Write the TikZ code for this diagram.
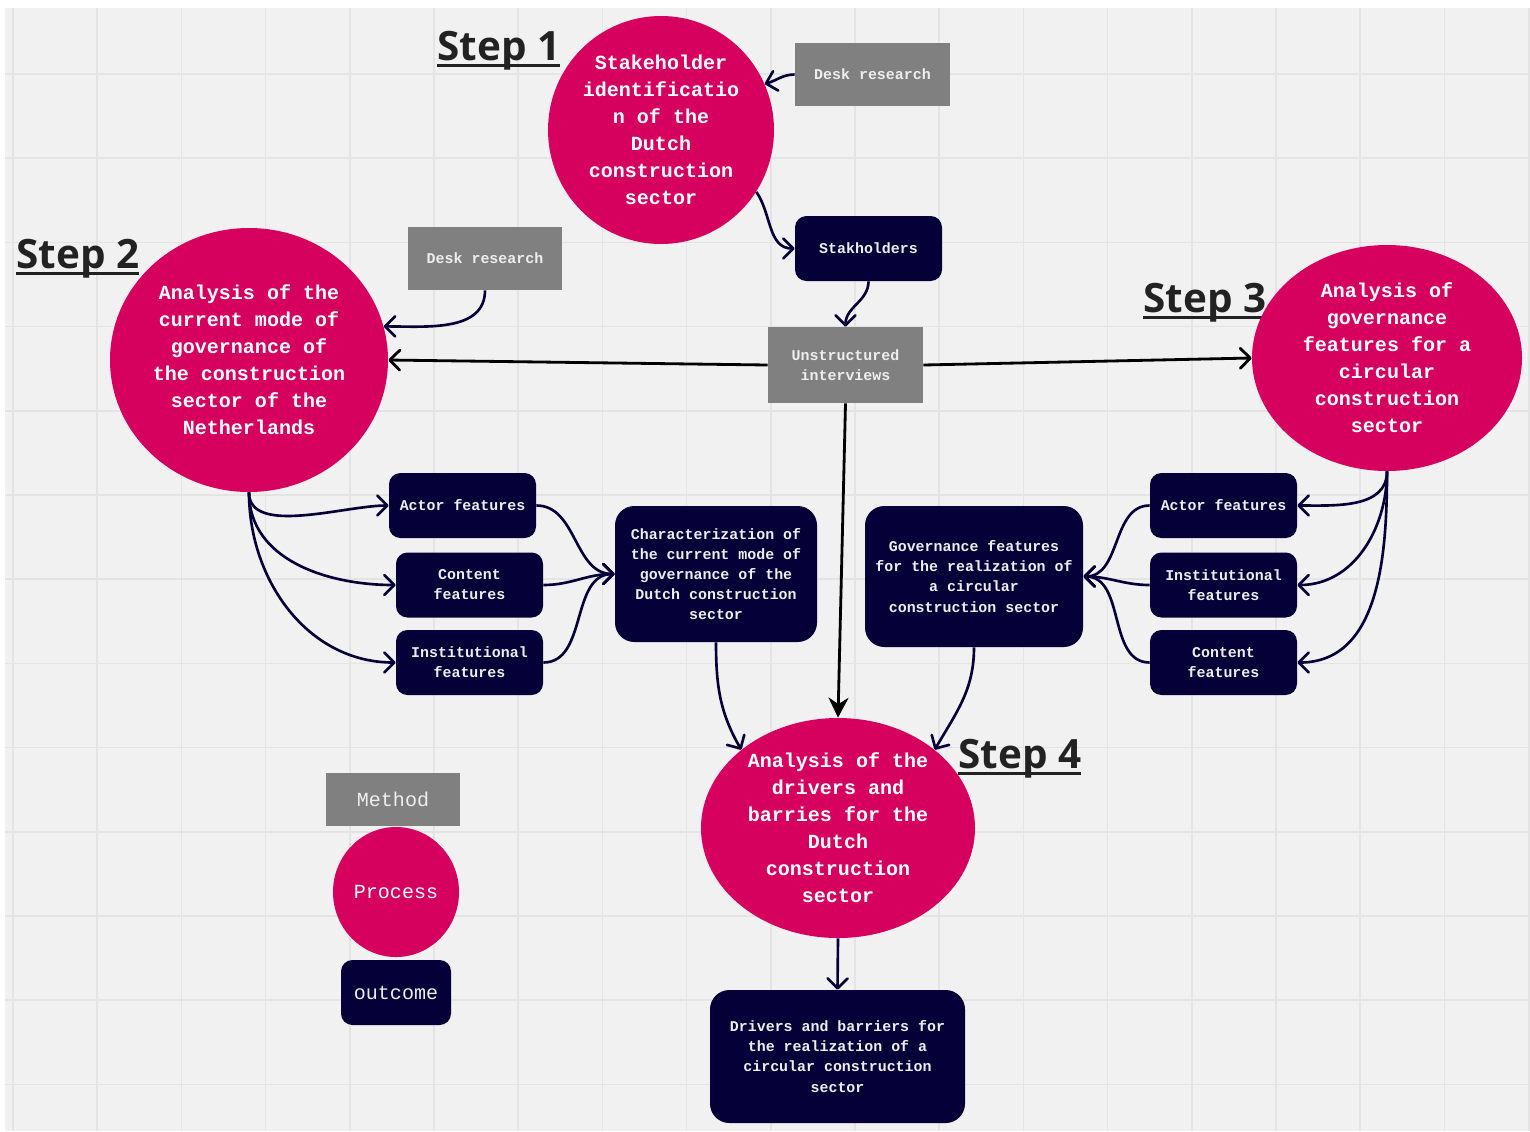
\documentclass[tikz,border=0pt]{standalone}
\usepackage{fontspec}
\usepackage{xcolor}
\usepackage{tikz}
\usetikzlibrary{positioning, arrows.meta, shapes.geometric}
\newfontfamily\monofont{Liberation Mono}
\newfontfamily\stepfont{Open Sans}
\newcommand{\bigmono}{\monofont\bfseries\fontsize{11.4}{15.4}\selectfont}
\newcommand{\smallmono}{\monofont\bfseries\fontsize{8.5}{11.4}\selectfont}
\newcommand{\legendmono}{\monofont\fontsize{11.4}{15.4}\selectfont}
% underlined step title
\newcommand{\steptitle}[1]{\setbox0=\hbox{#1}\rlap{\rule[-3.7pt]{\wd0}{1.7pt}}\box0}
\definecolor{procpink}{HTML}{D6005F}
\definecolor{outnavy}{HTML}{050038}
\definecolor{methgray}{HTML}{808080}
\definecolor{canvas}{HTML}{F1F1F1}
\definecolor{gridline}{HTML}{E4E4E4}
\definecolor{steptext}{HTML}{222222}
\definecolor{boxtext}{HTML}{EEEEEE}

\begin{document}
\begin{tikzpicture}[
  >=Stealth,
  process/.style={ellipse, fill=procpink, text=white, inner sep=0pt,
    align=center, font=\bigmono},
  method/.style={fill=methgray, text=boxtext, inner sep=0pt,
    align=center, font=\smallmono},
  outcome/.style={fill=outnavy, text=boxtext, rounded corners=6.5pt,
    inner sep=0pt, align=center, font=\smallmono},
  featbox/.style={outcome, minimum width=2.94cm, minimum height=1.3cm},
  bigout/.style={outcome, rounded corners=11pt},
  steplabel/.style={font=\stepfont\bfseries\fontsize{23}{28}\selectfont,
    text=steptext, anchor=base west, inner sep=0pt},
  link/.style={draw=outnavy, line width=1.5pt,
    -{Straight Barb[length=2mm, width=4mm, round]}},
  mainlink/.style={draw=black, line width=1.6pt,
    -{Straight Barb[length=2mm, width=4mm, round]}},
]

% ===== CANVAS =====
\useasboundingbox (0,0) rectangle (30.6,-22.62);
\fill[white] (0,0) rectangle (30.6,-22.62);
\fill[canvas] (0.1,-0.16) rectangle (30.6,-22.62);
\foreach \gx in {0,...,18}
  \draw[gridline, line width=1pt] ({0.26+1.684*\gx},-0.16) -- ({0.26+1.684*\gx},-22.62);
\foreach \gy in {0,...,12}
  \draw[gridline, line width=1pt] (0.1,{-1.48-1.684*\gy}) -- (30.6,{-1.48-1.684*\gy});

% ===== STEP 1 =====
\node[steplabel] (lab1) at (8.74,-1.2) {\steptitle{Step 1}};
\node[process, minimum width=4.52cm, minimum height=4.56cm] (step1) at (13.22,-2.6)
  {Stakeholder\\identificatio\\n of the\\Dutch\\construction\\sector};
\node[method, minimum width=3.1cm, minimum height=1.26cm] (desk1) at (17.45,-1.49)
  {Desk research};
\node[outcome, minimum width=2.94cm, minimum height=1.3cm] (stakh) at (17.37,-4.97)
  {Stakholders};
\node[method, minimum width=3.1cm, minimum height=1.52cm] (interv) at (16.91,-7.3)
  {Unstructured\\interviews};

\draw[link] (desk1.west) to[out=180, in=15] (step1.24);
\draw[link] (step1.-33) to[out=-55, in=180] (stakh.west);
\draw[link] (stakh.south) to[out=-90, in=90] (interv.north);

% ===== STEP 2 =====
\node[steplabel] (lab2) at (0.32,-5.36) {\steptitle{Step 2}};
\node[process, minimum width=5.56cm, minimum height=5.28cm] (step2) at (4.98,-7.2)
  {Analysis of the\\current mode of\\governance of\\the construction\\sector of the\\Netherlands};
\node[method, minimum width=3.08cm, minimum height=1.26cm] (desk2) at (9.7,-5.17)
  {Desk research};
\node[featbox] (actorL) at (9.25,-10.11) {Actor features};
\node[featbox] (contentL) at (9.39,-11.7) {Content\\features};
\node[featbox] (instL) at (9.39,-13.25) {Institutional\\features};
\node[bigout, minimum width=4.04cm, minimum height=2.72cm] (charact) at (14.32,-11.48)
  {Characterization of\\the current mode of\\governance of the\\Dutch construction\\sector};

\draw[link] (desk2.south) to[out=-90, in=0] (step2.14);
\draw[link] (step2.south) to[out=-90, in=180, looseness=0.8] (actorL.west);
\draw[link] (step2.south) to[out=-90, in=180] (contentL.west);
\draw[link] (step2.south) to[out=-90, in=180] (instL.west);
\draw[link] (actorL.east) to[out=0, in=180] (charact.west);
\draw[link] (contentL.east) to[out=0, in=180] (charact.west);
\draw[link] (instL.east) to[out=0, in=180] (charact.west);

% ===== STEP 3 =====
\node[steplabel] (lab3) at (22.86,-6.24) {\steptitle{Step 3}};
\node[process, minimum width=5.4cm, minimum height=4.52cm] (step3) at (27.74,-7.16)
  {Analysis of\\governance\\features for a\\circular\\construction\\sector};
\node[featbox] (actorR) at (24.47,-10.11) {Actor features};
\node[featbox] (instR) at (24.47,-11.7) {Institutional\\features};
\node[featbox] (contentR) at (24.47,-13.25) {Content\\features};
\node[bigout, minimum width=4.36cm, minimum height=2.82cm] (govern) at (19.48,-11.53)
  {Governance features\\for the realization of\\a circular\\construction sector};

\draw[link] (step3.south) to[out=-90, in=0] (actorR.east);
\draw[link] (step3.south) to[out=-90, in=0] (instR.east);
\draw[link] (step3.south) to[out=-90, in=0] (contentR.east);
\draw[link] (actorR.west) to[out=180, in=0] (govern.east);
\draw[link] (instR.west) to[out=180, in=0] (govern.east);
\draw[link] (contentR.west) to[out=180, in=0] (govern.east);

% interviews feed the three analyses
\draw[mainlink] (interv.west) -- (step2.east);
\draw[mainlink] (interv.east) -- (step3.west);

% ===== STEP 4 =====
\node[steplabel] (lab4) at (19.16,-15.36) {\steptitle{Step 4}};
\node[process, minimum width=5.48cm, minimum height=4.4cm] (step4) at (16.76,-16.56)
  {Analysis of the\\drivers and\\barries for the\\Dutch\\construction\\sector};
\node[bigout, minimum width=5.1cm, minimum height=2.66cm] (drivers) at (16.75,-21.13)
  {Drivers and barriers for\\the realization of a\\circular construction\\sector};

\draw[draw=black, line width=1.6pt, -{Stealth[length=4mm, width=4mm]}]
  (interv.south) -- (step4.north);
\draw[link] (charact.south) to[out=-90, in=120] (step4.141);
\draw[link] (govern.south) to[out=-90, in=60] (step4.39);
\draw[link] (step4.south) -- (drivers.north);

% ===== LEGEND =====
\node[method, minimum width=2.68cm, minimum height=1.06cm, font=\legendmono]
  (legmethod) at (7.86,-15.99) {Method};
\node[process, minimum width=2.52cm, minimum height=2.6cm, font=\legendmono]
  (legprocess) at (7.92,-17.84) {Process};
\node[outcome, minimum width=2.2cm, minimum height=1.3cm, font=\legendmono]
  (legoutcome) at (7.92,-19.85) {outcome};

\end{tikzpicture}
\end{document}
